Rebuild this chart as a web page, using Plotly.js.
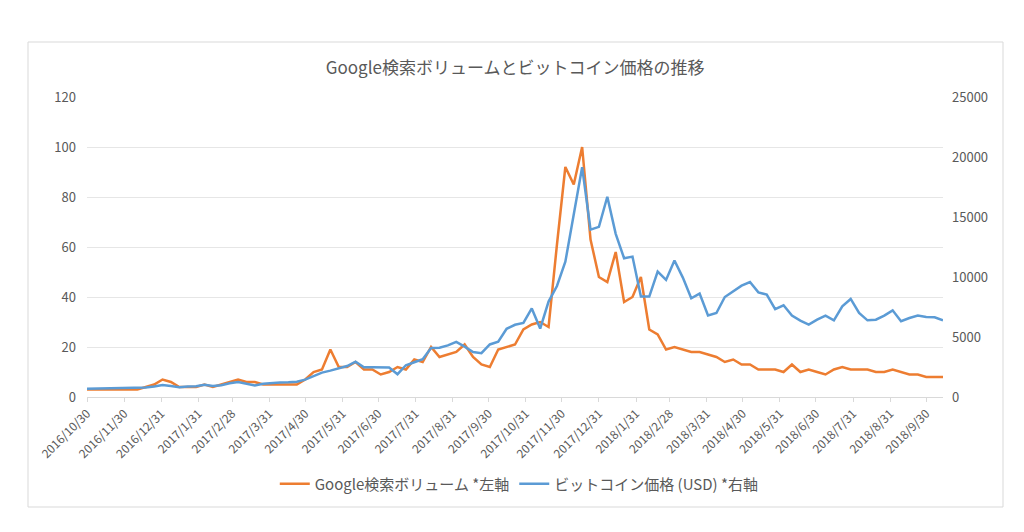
<!DOCTYPE html>
<html>
<head>
<meta charset="utf-8">
<script src="https://cdn.plot.ly/plotly-3.0.1.min.js"></script>
<style>
html,body{margin:0;padding:0;background:#fff;}
#chart{width:1024px;height:532px;}
</style>
</head>
<body>
<div id="chart"></div>
<script>
const weeks = [
"2016-10-30","2016-11-06","2016-11-13","2016-11-20","2016-11-27","2016-12-04","2016-12-11","2016-12-18","2016-12-25",
"2017-01-01","2017-01-08","2017-01-15","2017-01-22","2017-01-29","2017-02-05","2017-02-12","2017-02-19","2017-02-26",
"2017-03-05","2017-03-12","2017-03-19","2017-03-26","2017-04-02","2017-04-09","2017-04-16","2017-04-23","2017-04-30",
"2017-05-07","2017-05-14","2017-05-21","2017-05-28","2017-06-04","2017-06-11","2017-06-18","2017-06-25","2017-07-02",
"2017-07-09","2017-07-16","2017-07-23","2017-07-30","2017-08-06","2017-08-13","2017-08-20","2017-08-27","2017-09-03",
"2017-09-10","2017-09-17","2017-09-24","2017-10-01","2017-10-08","2017-10-15","2017-10-22","2017-10-29","2017-11-05",
"2017-11-12","2017-11-19","2017-11-26","2017-12-03","2017-12-10","2017-12-17","2017-12-24","2017-12-31","2018-01-07",
"2018-01-14","2018-01-21","2018-01-28","2018-02-04","2018-02-11","2018-02-18","2018-02-25","2018-03-04","2018-03-11",
"2018-03-18","2018-03-25","2018-04-01","2018-04-08","2018-04-15","2018-04-22","2018-04-29","2018-05-06","2018-05-13",
"2018-05-20","2018-05-27","2018-06-03","2018-06-10","2018-06-17","2018-06-24","2018-07-01","2018-07-08","2018-07-15",
"2018-07-22","2018-07-29","2018-08-05","2018-08-12","2018-08-19","2018-08-26","2018-09-02","2018-09-09","2018-09-16",
"2018-09-23","2018-09-30","2018-10-07","2018-10-14"
];

const googleVolume = [
3,3,3,3,3,3,3,4,5,
7,6,4,4,4,5,4,5,6,
7,6,6,5,5,5,5,5,7,
10,11,19,12,12,14,11,11,9,
10,12,11,15,14,20,16,17,18,
21,16,13,12,19,20,21,27,29,
30,28,61,92,85,100,63,48,46,
58,38,40,48,27,25,19,20,19,
18,18,17,16,14,15,13,13,11,
11,11,10,13,10,11,10,9,11,
12,11,11,11,10,10,11,10,9,
9,8,8,8
];

const btcPrice = [
690,700,710,740,740,760,780,800,880,
1000,910,820,880,900,1010,920,980,1150,
1250,1130,960,1100,1180,1200,1230,1280,1450,
1750,2030,2200,2400,2580,2950,2480,2470,2450,
2450,1900,2650,2900,3150,4080,4100,4300,4600,
4200,3750,3650,4380,4600,5680,6020,6170,7380,
5700,7950,9250,11270,15350,19150,13950,14180,16690,
13600,11560,11700,8370,8370,10450,9760,11380,9950,
8230,8620,6800,7000,8330,8800,9280,9580,8720,
8530,7330,7640,6780,6360,6030,6440,6780,6390,
7560,8170,7000,6390,6440,6780,7220,6310,6580,
6780,6670,6640,6390
];

const tickDates = [
"2016-10-30","2016-11-30","2016-12-31","2017-01-31","2017-02-28","2017-03-31","2017-04-30","2017-05-31",
"2017-06-30","2017-07-31","2017-08-31","2017-09-30","2017-10-31","2017-11-30","2017-12-31","2018-01-31",
"2018-02-28","2018-03-31","2018-04-30","2018-05-31","2018-06-30","2018-07-31","2018-08-31","2018-09-30"
];
const tickLabels = [
"2016/10/30","2016/11/30","2016/12/31","2017/1/31","2017/2/28","2017/3/31","2017/4/30","2017/5/31",
"2017/6/30","2017/7/31","2017/8/31","2017/9/30","2017/10/31","2017/11/30","2017/12/31","2018/1/31",
"2018/2/28","2018/3/31","2018/4/30","2018/5/31","2018/6/30","2018/7/31","2018/8/31","2018/9/30"
];
const leftTicks = [0,20,40,60,80,100,120];
const rightTicks = [0,5000,10000,15000,20000,25000];
const rightTickLabels = ["0","5000","10000","15000","20000","25000"];

const FONT = '"Noto Sans CJK JP", "Noto Sans", sans-serif';
const GREY = '#595959';

const traces = [
  {x: weeks, y: googleVolume, type: 'scatter', mode: 'lines', name: 'Google検索ボリューム *左軸',
   line: {color: '#ED7D31', width: 2.5}, yaxis: 'y'},
  {x: weeks, y: btcPrice, type: 'scatter', mode: 'lines', name: 'ビットコイン価格 (USD) *右軸',
   line: {color: '#5B9BD5', width: 2.5}, yaxis: 'y2'}
];

const layout = {
  width: 1024, height: 532,
  margin: {l: 87, r: 81, t: 97, b: 135},
  paper_bgcolor: '#fff', plot_bgcolor: '#fff',
  font: {family: FONT, color: GREY, size: 12},
  title: {text: 'Google検索ボリュームとビットコイン価格の推移', font: {family: FONT, size: 17, color: GREY},
          x: 0.503, xanchor: 'center', y: 1 - 68/532, yanchor: 'middle', yref: 'container'},
  showlegend: true,
  legend: {orientation: 'h', x: 0.505, xanchor: 'center', y: -0.29, yanchor: 'middle',
           font: {family: FONT, size: 15, color: GREY}, itemwidth: 30, tracegroupgap: 0},
  xaxis: {type: 'date', range: [weeks[0], weeks[weeks.length-1]],
          tickmode: 'array', tickvals: tickDates, ticktext: tickLabels, tickangle: -45,
          tickfont: {family: FONT, size: 12, color: GREY},
          showgrid: false, zeroline: false, showline: true, linecolor: '#d9d9d9', linewidth: 1,
          ticks: 'outside', ticklen: 4, tickcolor: '#d9d9d9'},
  yaxis: {range: [0, 120], tickmode: 'array', tickvals: leftTicks, showgrid: true, gridcolor: '#e6e6e6',
          zeroline: false, showline: false, ticks: '', tickfont: {family: FONT, size: 13, color: GREY}, ticklabelstandoff: 10},
  yaxis2: {range: [0, 25000], overlaying: 'y', side: 'right', tickmode: 'array', tickvals: rightTicks, ticktext: rightTickLabels,
           showgrid: false, zeroline: false, showline: false, ticks: '', tickfont: {family: FONT, size: 13, color: GREY}, ticklabelstandoff: 8},
  shapes: [{type: 'rect', xref: 'paper', yref: 'paper', x0: (28-87)/856, x1: (1003-87)/856,
            y0: (397-507)/300, y1: (397-42)/300, line: {color: '#d9d9d9', width: 1}, fillcolor: 'rgba(0,0,0,0)', layer: 'below'}]
};

Plotly.newPlot('chart', traces, layout, {displayModeBar: false, staticPlot: true});
</script>
</body>
</html>
